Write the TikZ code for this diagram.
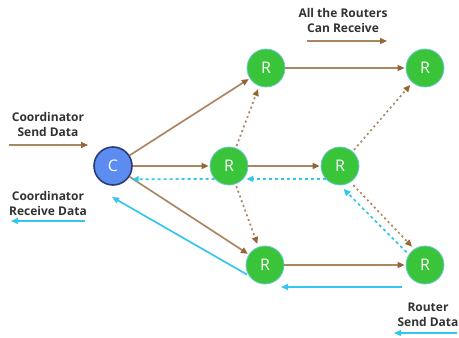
\documentclass[tikz,border=0pt]{standalone}
\usepackage{fontspec}
\setmainfont{Open Sans}
\usetikzlibrary{arrows.meta,calc}
\definecolor{brn}{RGB}{172,134,98}
\definecolor{brnhead}{RGB}{150,100,55}
\definecolor{cyn}{RGB}{52,198,238}
\definecolor{grn}{RGB}{58,196,58}
\definecolor{grnedge}{RGB}{110,200,215}
\definecolor{cblue}{RGB}{92,140,240}
\definecolor{cedge}{RGB}{40,60,120}
\definecolor{txt}{RGB}{50,50,50}
\begin{document}
\begin{tikzpicture}[x=1pt,y=-1pt,
  router/.style={circle,fill=grn,draw=grnedge,line width=0.8pt,minimum size=38pt,inner sep=0pt,text=white,font=\fontsize{16}{16}\selectfont},
  coordn/.style={circle,fill=cblue,draw=cedge,line width=1.6pt,minimum size=38pt,inner sep=0pt,text=white,font=\fontsize{16}{16}\selectfont},
  send/.style={draw=brn,line width=1.7pt,-{Triangle[length=7pt,width=6pt,color=brnhead]},shorten >=1pt},
  sendd/.style={send,dash pattern=on 2pt off 3pt,shorten >=3pt,shorten <=2pt},
  recv/.style={draw=cyn,line width=1.7pt,-{Triangle[length=7pt,width=6pt]}},
  recvd/.style={recv,dash pattern=on 3pt off 3pt},
  lbl/.style={font=\fontsize{12}{15}\selectfont\bfseries,text=txt,align=center}
]
\useasboundingbox (0,0) rectangle (459,338);

% nodes
\node[coordn] (C) at (113,166) {C};
\node[router] (R1) at (266,68) {R};
\node[router] (R2) at (229,166) {R};
\node[router] (R3) at (340,166) {R};
\node[router] (R4) at (425,68) {R};
\node[router] (R5) at (265,265) {R};
\node[router] (R6) at (425,265) {R};

% solid brown
\draw[send] (C) -- (R1);
\draw[send] (C) -- (R2);
\draw[send] (C) -- (R5);
\draw[send] (R1) -- (R4);
\draw[send] (R2) -- (R3);
\draw[send] (R5) -- (R6);

% dotted brown
\draw[sendd] (R2) -- (R1);
\draw[sendd] (R2) -- (R5);
\draw[sendd] (R3) -- (R4);
\draw[sendd,shorten <=4pt] (R3.-57) -- (R6.124);

% cyan dashed / dotted
\draw[recvd,shorten >=4pt] (R2.-138) -- (C.-42);
\draw[recvd,shorten >=3pt] (R3.-138) -- (R2.-42);
\draw[recvd,shorten >=5pt,shorten <=3pt] (R6.147) -- (R3.-90);

% cyan solid
\draw[recv] ([shift={(-23,22)}]R6.center) -- ([shift={(16,22)}]R5.center);
\draw[recv,shorten <=2pt] (R5.213) -- ([shift={(-1,31)}]C.center);

% legends
\node[lbl] (ls) at (48,124) {Coordinator\\Send Data};
\coordinate (ls1) at (9,145);
\coordinate (ls2) at (88,145);
\draw[send,line width=1.4pt,shorten >=0pt] (ls1) -- (ls2);

\node[lbl] (lr) at (48,203) {Coordinator\\Receive Data};
\coordinate (lr1) at (85,221);
\coordinate (lr2) at (11,221);
\draw[recv,line width=1.4pt] (lr1) -- (lr2);

\node[lbl] (la) at (343,20) {All the Routers\\Can Receive};
\coordinate (la1) at (307,41);
\coordinate (la2) at (387,41);
\draw[send,line width=1.4pt,shorten >=0pt] (la1) -- (la2);

\node[lbl] (lrs) at (428,315) {Router\\Send Data};
\coordinate (lrs1) at (457,333);
\coordinate (lrs2) at (394,333);
\draw[recv,line width=1.4pt] (lrs1) -- (lrs2);
\end{tikzpicture}
\end{document}
